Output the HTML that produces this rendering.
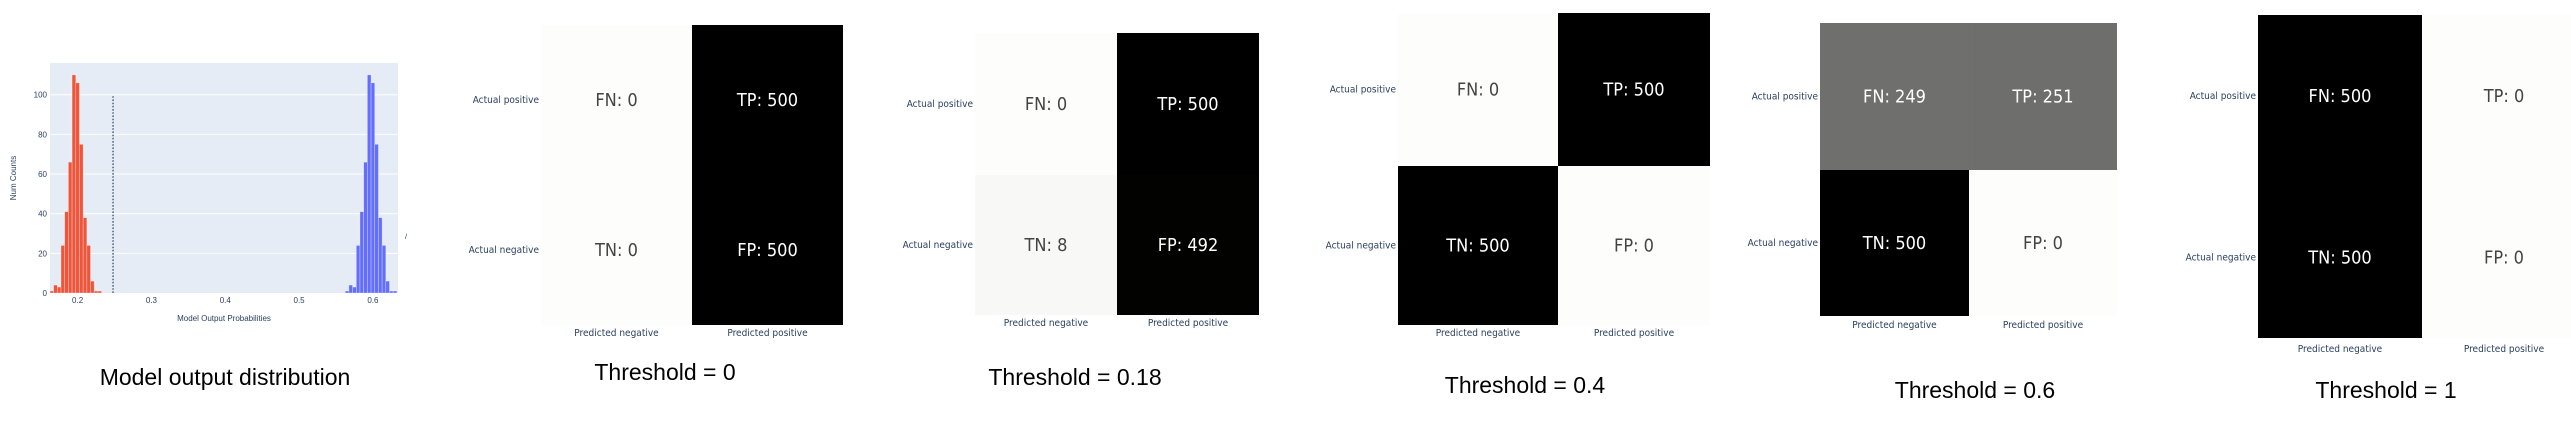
<!DOCTYPE html>
<html><head><meta charset="utf-8"><style>
html,body{margin:0;padding:0;background:#fff;}
svg{display:block;font-family:"Liberation Sans",sans-serif;}
</style></head><body>
<svg id="s" width="2571" height="421" viewBox="0 0 2571 421" xmlns="http://www.w3.org/2000/svg"></svg>
<script>
// Histogram data
const binStartsRed = [0.1625,0.1675,0.1725,0.1775,0.1825,0.1875,0.1925,0.1975,0.2025,0.2075,0.2125,0.2175,0.2225,0.2275];
const countsRed = [1,4,3,24,41,66,110,106,75,38,24,6,1,1];
const binStartsBlue = [0.5625,0.5675,0.5725,0.5775,0.5825,0.5875,0.5925,0.5975,0.6025,0.6075,0.6125,0.6175,0.6225,0.6275];
const countsBlue = [1,4,3,24,41,66,110,106,75,38,24,6,1,1];
const binWidth = 0.005;
const xTicks = [0.2,0.3,0.4,0.5,0.6];
const yTicks = [0,20,40,60,80,100];
const thresholdLine = 0.248;
const thresholdLineHeight = 100;
// Confusion matrix data
const matrixTitles = ["Threshold = 0","Threshold = 0.18","Threshold = 0.4","Threshold = 0.6","Threshold = 1"];
const fnValues = [0,0,0,249,500];
const tpValues = [500,500,500,251,0];
const tnValues = [0,8,500,500,500];
const fpValues = [500,492,0,0,0];

const NS="http://www.w3.org/2000/svg";
const svg=document.getElementById('s');
function mk(tag,attrs,parent,txt){const e=document.createElementNS(NS,tag);for(const k in attrs)e.setAttribute(k,attrs[k]);if(txt!==undefined)e.textContent=txt;(parent||svg).appendChild(e);return e;}

// ---- histogram ----
const px0=50,px1=398,py0=63,py1=293;
const xmin=0.1626,xmax=0.634,ymin=0,ymax=116;
const X=v=>px0+(v-xmin)/(xmax-xmin)*(px1-px0);
const Y=v=>py1-(v-ymin)/(ymax-ymin)*(py1-py0);
const hg=mk('g',{});


const bg=mk('rect',{x:px0,y:py0,width:px1-px0,height:py1-py0,fill:'#e5ecf6'},hg);


yTicks.forEach(t=>{
  if(t>0){const l=mk('line',{x1:px0,x2:px1,y1:Y(t),y2:Y(t),stroke:'#fff','stroke-width':1},hg);
  
  }
  const tx=mk('text',{x:px0-3,y:Y(t)+3,'font-size':8,fill:'#2a3f5f','text-anchor':'end'},hg,String(t));
  
  
});
xTicks.forEach(t=>{
  const tx=mk('text',{x:X(t),y:py1+10,'font-size':8,fill:'#2a3f5f','text-anchor':'middle'},hg,String(t));
  
  
});
function bars(starts,counts,color,name){
  starts.forEach((s,i)=>{
    const x0=Math.max(X(s),px0),x1=Math.min(X(s+binWidth),px1);
    const r=mk('rect',{x:x0,y:Y(counts[i]),width:Math.max(x1-x0,0),height:Y(0)-Y(counts[i]),fill:color,stroke:'rgba(255,255,255,0.5)','stroke-width':0.6},hg);
    
    
  });
}
bars(binStartsRed,countsRed,'#ef553b','bar-negative-class');
bars(binStartsBlue,countsBlue,'#636efa','bar-positive-class');
const dl=mk('line',{x1:X(thresholdLine),x2:X(thresholdLine),y1:Y(0),y2:Y(thresholdLineHeight),stroke:'#2a3f5f','stroke-width':1.2,'stroke-dasharray':'1.6,1.6'},hg);


const yt=mk('text',{x:16,y:178,'font-size':8,fill:'#2a3f5f','text-anchor':'middle',transform:'rotate(-90 16 178)'},hg,'Num Counts');


const xt=mk('text',{x:224,y:321,'font-size':8,fill:'#2a3f5f','text-anchor':'middle'},hg,'Model Output Probabilities');


const sl=mk('text',{x:405,y:239,'font-size':7,fill:'#2a3f5f'},hg,'/');


const ht=mk('text',{x:225,y:385,'font-size':23,fill:'#000','text-anchor':'middle'},hg,'Model output distribution');



// ---- confusion matrices ----
const layouts=[
 {x0:541,xs:692,x1:843,y0:25,ys:175,y1:325,lab:333,tx:665,ty:380},
 {x0:975,xs:1117,x1:1259,y0:33,ys:175,y1:315,lab:323,tx:1075,ty:385},
 {x0:1398,xs:1558,x1:1710,y0:13,ys:166,y1:325,lab:333,tx:1525,ty:393},
 {x0:1820,xs:1969,x1:2117,y0:23,ys:170,y1:316,lab:325,tx:1975,ty:398},
 {x0:2258,xs:2422,x1:2586,y0:15,ys:177,y1:338,lab:349,tx:2386,ty:398}
];
function shade(v){const g=Math.round(253*Math.pow(1-v/500,1.2));return `rgb(${g},${g},${Math.max(g-1,0)})`;}
function txtColor(v){return v>200?'#ffffff':'#444444';}
matrixTitles.forEach((title,i)=>{
  const L=layouts[i];
  const g=mk('g',{});
  
  
  const cells=[
    {v:fnValues[i],lab:'FN',x0:L.x0,x1:L.xs,y0:L.y0,y1:L.ys},
    {v:tpValues[i],lab:'TP',x0:L.xs,x1:L.x1,y0:L.y0,y1:L.ys},
    {v:tnValues[i],lab:'TN',x0:L.x0,x1:L.xs,y0:L.ys,y1:L.y1},
    {v:fpValues[i],lab:'FP',x0:L.xs,x1:L.x1,y0:L.ys,y1:L.y1}
  ];
  cells.forEach(c=>{
    const r=mk('rect',{x:c.x0,y:c.y0,width:c.x1-c.x0,height:c.y1-c.y0,fill:shade(c.v)},g);
    
    
    const t=mk('text',{x:(c.x0+c.x1)/2,y:(c.y0+c.y1)/2+6,'font-size':18,fill:txtColor(c.v),'text-anchor':'middle','font-family':'DejaVu Sans Condensed, DejaVu Sans, sans-serif'},g,c.lab+': '+c.v);
    
    
  });
  const rowLabs=[['Actual positive',(L.y0+L.ys)/2],['Actual negative',(L.ys+L.y1)/2]];
  rowLabs.forEach(r=>{
    const t=mk('text',{x:L.x0-2,y:r[1]+3,'font-size':10,fill:'#2a3f5f','text-anchor':'end','font-family':'DejaVu Sans Condensed, DejaVu Sans, sans-serif'},g,r[0]);
    
    
  });
  const colLabs=[['Predicted negative',(L.x0+L.xs)/2],['Predicted positive',(L.xs+L.x1)/2]];
  colLabs.forEach(c=>{
    const t=mk('text',{x:c[1],y:L.lab+3,'font-size':10,fill:'#2a3f5f','text-anchor':'middle','font-family':'DejaVu Sans Condensed, DejaVu Sans, sans-serif'},g,c[0]);
    
    
  });
  const tt=mk('text',{x:L.tx,y:L.ty,'font-size':23,fill:'#000','text-anchor':'middle'},g,title);
  
  
});
</script>
</body></html>
